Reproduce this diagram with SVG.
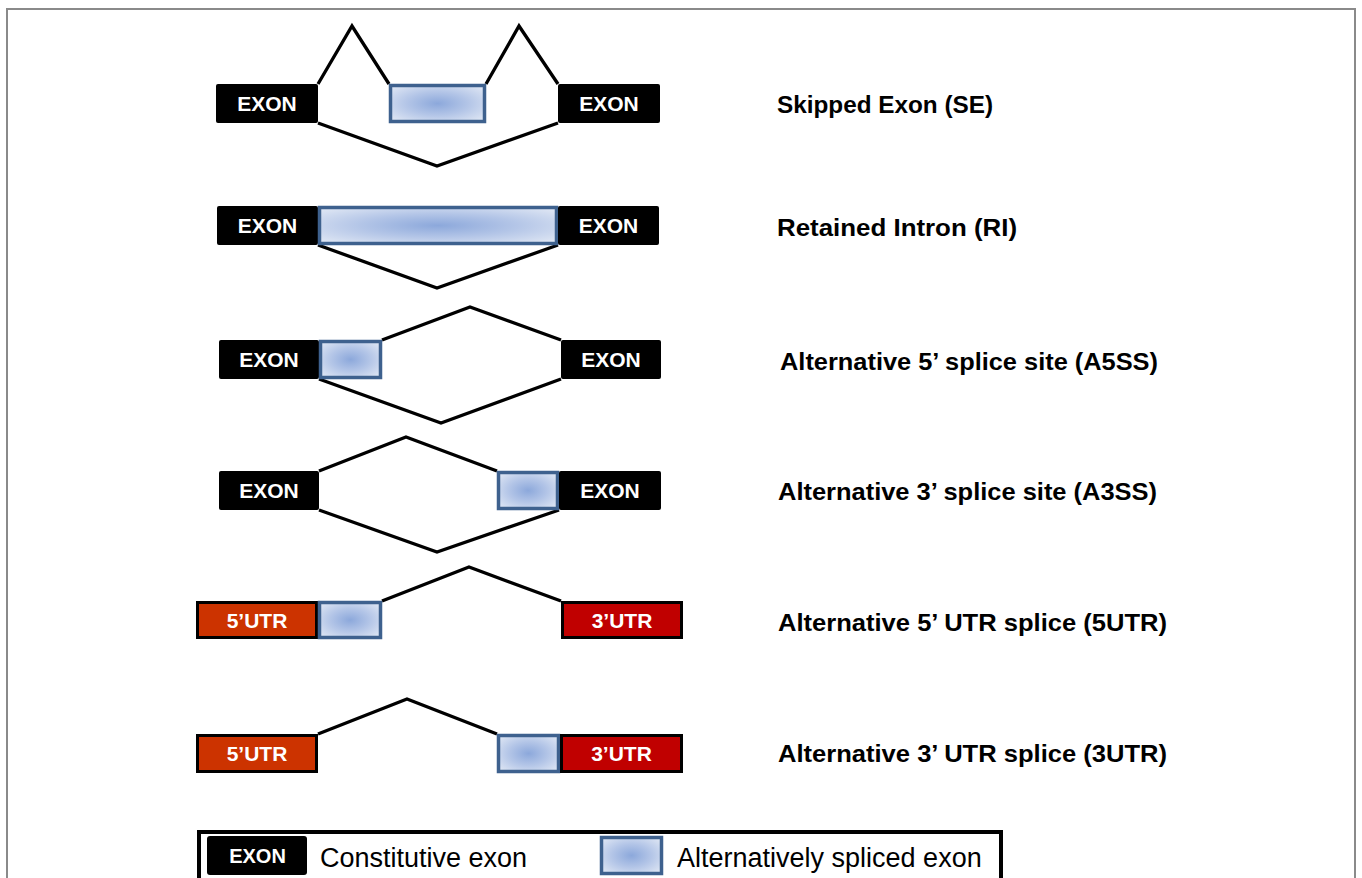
<svg xmlns="http://www.w3.org/2000/svg" width="1362" height="878" viewBox="0 0 1362 878">
<defs>
<radialGradient id="alt" cx="0.5" cy="0.5" r="0.72">
<stop offset="0" stop-color="#8CA8DB"/>
<stop offset="0.45" stop-color="#B3C5E7"/>
<stop offset="1" stop-color="#E6ECF6"/>
</radialGradient>
<style>
.exon{fill:#000}
.alt{fill:url(#alt);stroke:#3E618E;stroke-width:3.5}
.u5{fill:#CC3300;stroke:#000;stroke-width:3}
.u3{fill:#C00000;stroke:#000;stroke-width:3}
.bt{font-family:"Liberation Sans",Arial,sans-serif;font-weight:bold;font-size:21px;fill:#fff;text-anchor:middle}
.lab{font-family:"Liberation Sans",Arial,sans-serif;font-weight:bold;font-size:24px;fill:#000}
.leg{font-family:"Liberation Sans",Arial,sans-serif;font-size:27px;fill:#000}
.ln{fill:none;stroke:#000;stroke-width:3.3;stroke-linejoin:miter}
</style>
</defs>
<rect width="1362" height="878" fill="#fff"/>
<rect x="7" y="9" width="1348" height="890" fill="none" stroke="#8a8a8a" stroke-width="2"/>

<g id="connectors">
<polyline class="ln" points="318,84 352,26 389,84"/>
<polyline class="ln" points="486,84 519,26 558,84"/>
<polyline class="ln" points="318,123 437,166 558,123"/>
<polyline class="ln" points="318,245 437,288 558,245"/>
<polyline class="ln" points="382,340 470,307 561,340"/>
<polyline class="ln" points="319,379 441,423 561,379"/>
<polyline class="ln" points="319,471 406,437 497,471"/>
<polyline class="ln" points="319,510 437,552 559,510"/>
<polyline class="ln" points="382,601 469,567 561,601"/>
<polyline class="ln" points="318,734 407,699 497,734"/>
</g>

<g id="row-se">
<rect class="exon" x="216" y="84" width="102" height="39" rx="2"/>
<text class="bt" x="267" y="111">EXON</text>
<rect class="alt" x="390.5" y="85.5" width="94" height="36"/>
<rect class="exon" x="558" y="84" width="102" height="39" rx="2"/>
<text class="bt" x="609" y="111">EXON</text>
<text class="lab" x="777" y="113" textLength="216" lengthAdjust="spacingAndGlyphs">Skipped Exon (SE)</text>
</g>

<g id="row-ri">
<rect class="exon" x="217" y="206" width="101" height="39" rx="2"/>
<text class="bt" x="267.5" y="233">EXON</text>
<rect class="alt" x="319.5" y="207.5" width="237" height="36"/>
<rect class="exon" x="558" y="206" width="101" height="39" rx="2"/>
<text class="bt" x="608.5" y="233">EXON</text>
<text class="lab" x="777" y="236" textLength="240" lengthAdjust="spacingAndGlyphs">Retained Intron (RI)</text>
</g>

<g id="row-a5ss">
<rect class="exon" x="219" y="340" width="100" height="39" rx="2"/>
<text class="bt" x="269" y="367">EXON</text>
<rect class="alt" x="320.5" y="341.5" width="60" height="36"/>
<rect class="exon" x="561" y="340" width="100" height="39" rx="2"/>
<text class="bt" x="611" y="367">EXON</text>
<text class="lab" x="780" y="370" textLength="378" lengthAdjust="spacingAndGlyphs">Alternative 5’ splice site (A5SS)</text>
</g>

<g id="row-a3ss">
<rect class="exon" x="219" y="471" width="100" height="39" rx="2"/>
<text class="bt" x="269" y="498">EXON</text>
<rect class="alt" x="498.5" y="472.5" width="59" height="36"/>
<rect class="exon" x="559" y="471" width="102" height="39" rx="2"/>
<text class="bt" x="610" y="498">EXON</text>
<text class="lab" x="778" y="500" textLength="379" lengthAdjust="spacingAndGlyphs">Alternative 3’ splice site (A3SS)</text>
</g>

<g id="row-5utr">
<rect class="u5" x="197.5" y="602.5" width="119" height="35"/>
<text class="bt" x="257" y="628">5’UTR</text>
<rect class="alt" x="319.5" y="602.5" width="61" height="35"/>
<rect class="u3" x="562.5" y="602.5" width="119" height="35"/>
<text class="bt" x="622" y="628">3’UTR</text>
<text class="lab" x="778" y="631" textLength="389" lengthAdjust="spacingAndGlyphs">Alternative 5’ UTR splice (5UTR)</text>
</g>

<g id="row-3utr">
<rect class="u5" x="197.5" y="735.5" width="119" height="36"/>
<text class="bt" x="257" y="761">5’UTR</text>
<rect class="alt" x="498.5" y="735.5" width="60" height="36"/>
<rect class="u3" x="561.5" y="735.5" width="120" height="36"/>
<text class="bt" x="621.5" y="761">3’UTR</text>
<text class="lab" x="778" y="762" textLength="389" lengthAdjust="spacingAndGlyphs">Alternative 3’ UTR splice (3UTR)</text>
</g>

<g id="legend">
<rect x="199" y="832" width="802" height="60" fill="none" stroke="#000" stroke-width="4"/>
<rect class="exon" x="207" y="836" width="100" height="39" rx="3"/>
<text class="bt" x="257.5" y="863" style="font-size:20px">EXON</text>
<text class="leg" x="320" y="867">Constitutive exon</text>
<rect class="alt" x="601.5" y="837.5" width="60" height="36"/>
<text class="leg" x="677" y="867">Alternatively spliced exon</text>
</g>
</svg>
